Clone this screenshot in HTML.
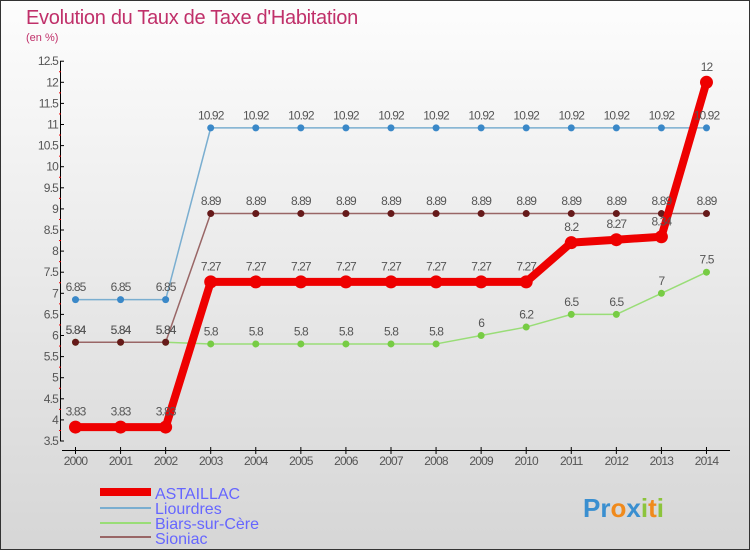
<!DOCTYPE html>
<html><head><meta charset="utf-8"><style>
body{margin:0;width:750px;height:550px;overflow:hidden;font-family:"Liberation Sans",sans-serif}
svg{display:block}
</style></head><body>
<svg id="c" width="750" height="550" xmlns="http://www.w3.org/2000/svg">
<defs><linearGradient id="bg" x1="0" y1="0" x2="0" y2="1"><stop offset="0" stop-color="#fdfdfd"/><stop offset="1" stop-color="#d6d6d6"/></linearGradient></defs>
<rect x="0.5" y="0.5" width="749" height="549" fill="url(#bg)" stroke="#333"/>
<text x="26" y="24" font-size="20" fill="#c0306a" letter-spacing="-0.3">Evolution du Taux de Taxe d'Habitation</text>
<text x="26" y="41" font-size="11" fill="#c0306a">(en %)</text>
<g id="axes"></g><g id="series"></g><g id="labels"></g>
<g>
<line x1="100" y1="492" x2="151" y2="492" stroke="#ee0000" stroke-width="8"/>
<text x="155" y="499" font-size="16" fill="#6666ff">ASTAILLAC</text>
<line x1="100" y1="508" x2="151" y2="508" stroke="#7aaed0" stroke-width="2"/>
<text x="155" y="514" font-size="16" fill="#6666ff">Liourdres</text>
<line x1="100" y1="523" x2="151" y2="523" stroke="#99dd77" stroke-width="2"/>
<text x="155" y="529" font-size="16" fill="#6666ff">Biars-sur-Cère</text>
<line x1="100" y1="537" x2="151" y2="537" stroke="#996666" stroke-width="2"/>
<text x="155" y="544" font-size="16" fill="#6666ff">Sioniac</text>
</g>
<text x="583" y="517" font-size="26" font-weight="bold"><tspan fill="#3a8fd0">Pr</tspan><tspan fill="#f08a1c">o</tspan><tspan fill="#3a8fd0">x</tspan><tspan fill="#8cc43c">i</tspan><tspan fill="#f08a1c">t</tspan><tspan fill="#8cc43c">i</tspan></text>
</svg>
<script>
const years=[2000,2001,2002,2003,2004,2005,2006,2007,2008,2009,2010,2011,2012,2013,2014];
const astaillac=[3.83,3.83,3.83,7.27,7.27,7.27,7.27,7.27,7.27,7.27,7.27,8.2,8.27,8.34,12];
const liourdres=[6.85,6.85,6.85,10.92,10.92,10.92,10.92,10.92,10.92,10.92,10.92,10.92,10.92,10.92,10.92];
const biars=[5.84,5.84,5.84,5.8,5.8,5.8,5.8,5.8,5.8,6,6.2,6.5,6.5,7,7.5];
const sioniac=[5.84,5.84,5.84,8.89,8.89,8.89,8.89,8.89,8.89,8.89,8.89,8.89,8.89,8.89,8.89];
const yTicks=[3.5,4,4.5,5,5.5,6,6.5,7,7.5,8,8.5,9,9.5,10,10.5,11,11.5,12,12.5];
const NS="http://www.w3.org/2000/svg";
function X(i){return 75.5+i*45.07;}
function Y(v){return 441-(v-3.5)*42.2;}
function mk(t,a,p){const e=document.createElementNS(NS,t);for(const k in a)e.setAttribute(k,a[k]);p.appendChild(e);return e;}
const ax=document.getElementById('axes'),sg=document.getElementById('series'),lg=document.getElementById('labels');
let e=mk('line',{x1:60.5,y1:Y(12.5),x2:60.5,y2:Y(3.5),stroke:'#000'},ax);

e=mk('line',{x1:62,y1:450.5,x2:730,y2:450.5,stroke:'#000'},ax);

yTicks.forEach(v=>{
 mk('line',{x1:60,y1:Y(v),x2:64,y2:Y(v),stroke:'#000'},ax);
 if(v<12.5)mk('line',{x1:59,y1:Y(v+0.25),x2:61,y2:Y(v+0.25),stroke:'#e00'},ax);
 const t=mk('text',{x:58,y:Y(v)+4,'font-size':12,fill:'#555','text-anchor':'end','letter-spacing':'-0.8'},ax);
 t.textContent=String(v);
 
});
years.forEach((y,i)=>{
 mk('line',{x1:X(i),y1:447,x2:X(i),y2:454,stroke:'#000'},ax);
 const t=mk('text',{x:X(i),y:465,'font-size':12,fill:'#555','text-anchor':'middle','letter-spacing':'-0.8'},ax);
 t.textContent=String(y);
 
});
function series(name,vals,color,dot,w,r){
 const p=mk('polyline',{points:vals.map((v,i)=>X(i)+','+Y(v)).join(' '),fill:'none',stroke:color,'stroke-width':w,'stroke-linejoin':'round'},sg);
 
 vals.forEach((v,i)=>{
  const c=mk('circle',{cx:X(i),cy:Y(v),r:r,fill:dot},sg);
  
  const t=mk('text',{x:X(i),y:Y(v)-(r+5),'font-size':12,fill:'#555','text-anchor':'middle','letter-spacing':'-0.9'},lg);
  t.textContent=String(v);
  
 });
}
series('liourdres',liourdres,'#7aaed0','#3a88c8',1.5,3.5);
series('biars',biars,'#99dd77','#77cc44',1.5,3.5);
series('sioniac',sioniac,'#996666','#661a1a',1.5,3.5);
series('astaillac',astaillac,'#ee0000','#ee0000',8,6.5);
</script>
</body></html>
